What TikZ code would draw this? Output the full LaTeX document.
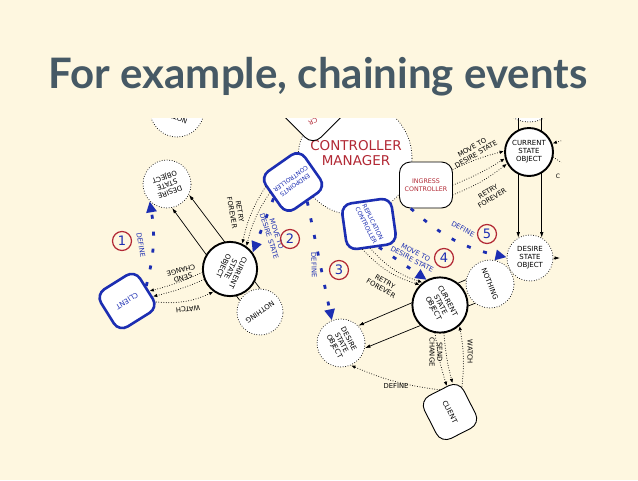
\documentclass[tikz,border=0pt]{standalone}
\usepackage{fontspec}
\setmainfont{DejaVu Sans}
\newfontfamily\titlefont{Lato}
\usetikzlibrary{arrows.meta,calc}
\definecolor{bgc}{RGB}{254,247,224}
\definecolor{titc}{RGB}{70,89,101}
\definecolor{dblue}{RGB}{28,46,178}
\definecolor{dred}{RGB}{178,40,52}
\newcommand{\ml}[1]{\begin{tabular}{@{}c@{}}#1\end{tabular}}
\tikzset{
 dotb/.style={line cap=round, dash pattern=on 0pt off 2.5pt, line width=1pt},
 circw/.style={circle, fill=white, inner sep=0pt, minimum size=#1, font=\fontsize{7}{8}\selectfont},
 dcirc/.style={circw=#1, draw, dotb},
 tcirc/.style={circw=#1, draw, line width=1.9pt},
 smallf/.style={font=\fontsize{6.8}{7.8}\selectfont},
 bbox/.style={draw=dblue, line width=2.6pt, fill=white, rounded corners=10pt, inner sep=0pt, text=dblue, align=center, font=\fontsize{6}{7.5}\selectfont},
 kbox/.style={draw, line width=0.9pt, fill=white, rounded corners=11pt, inner sep=0pt, align=center, font=\fontsize{6.3}{7.8}\selectfont},
 bconn/.style={draw=dblue, line width=2.8pt, dash pattern=on 4pt off 13pt, -{Triangle[length=11pt,width=10pt]}},
 kdot/.style={dotb, -{Latex[length=4.5pt,width=3.6pt]}},
 kline/.style={line width=0.7pt, -{Latex[length=5.5pt,width=3.6pt]}},
 numc/.style={circle, draw=dred, line width=1.2pt, minimum size=19pt, inner sep=0pt, text=dblue, font=\fontsize{13}{13}\selectfont},
 blab/.style={text=dblue, smallf, align=center, inner sep=0pt},
 klab/.style={smallf, align=center, inner sep=0pt},
}
\begin{document}
\begin{tikzpicture}[x=1pt,y=-1pt]
\fill[bgc] (0,0) rectangle (638,480);
\useasboundingbox (0,0) rectangle (638,480);
\node[font=\titlefont\bfseries\fontsize{42}{42}\selectfont, text=titc, anchor=base] (title) at (318,88) {For example, chaining events};

\begin{scope}
\clip (60,118) rectangle (561,470);
% big background shapes
\node[dcirc=114] (mgr) at (355,158) {};
\node[text=dred, font=\fontsize{13.5}{15}\selectfont, align=center] (mgrT) at (356,153) {CONTROLLER\\MANAGER};
\node[kbox, rotate=45, minimum width=54, minimum height=54] (crN) at (313,107) {};
\node[text=dred, font=\fontsize{6.5}{6.5}\selectfont, rotate=205] (crT) at (313,122) {CR};
\node[dcirc=60] (topR) at (529,92) {};
\node[dcirc=54] (noT) at (177,110) {};
\node[smallf, rotate=160] (noTt) at (172,116) {NOTHING};

% desire / nothing nodes
\node[dcirc=48] (dL) at (167,184) {\rotatebox{200}{\ml{DESIRE\\STATE\\OBJECT}}};
\node[dcirc=46] (nL) at (260,312) {\rotatebox{215}{NOTHING}};
\node[dcirc=46] (dR) at (530,258) {\ml{DESIRE\\STATE\\OBJECT}};
\node[dcirc=48] (dM) at (341,343) {\rotatebox{-62}{\ml{DESIRE\\STATE\\OBJECT}}};
\node[dcirc=48] (nR) at (490,284) {\rotatebox{-68}{NOTHING}};

% lines passing behind current state objects
\draw[kline] (nL.150) -- (dL.-78);
\draw[kline] (nL.90) -- (dL.-26);
\draw[kline] (dR.120 |- topR.center) -- (dR.120);
\draw[kline] (dR.60 |- topR.center) -- (dR.60);
\draw[kline] (nR.170) -- (dM.45);
\draw[kline] (nR.232) -- (dM.-12);

% current state objects
\node[tcirc=48] (cL) at (230,269) {\rotatebox{-115}{\ml{CURRENT\\STATE\\OBJECT}}};
\node[tcirc=46] (cM) at (440,305) {\rotatebox{-62}{\ml{CURRENT\\STATE\\OBJECT}}};
\node[tcirc=48] (cR) at (529,152) {\ml{CURRENT\\STATE\\OBJECT}};

% controllers and clients
\node[bbox, rotate=215, minimum width=48, minimum height=46] (eC) at (293,182) {ENDPOINTS\\CONTROLLER};
\node[bbox, rotate=8, minimum width=50, minimum height=46] (rC) at (369,224) {\rotatebox{-71}{\ml{REPLICATION\\CONTROLLER}}};
\node[kbox, text=dred, minimum width=53, minimum height=46] (iC) at (426,185) {INGRESS\\CONTROLLER};
\node[bbox, rotate=212, minimum width=46, minimum height=44, font=\fontsize{7}{8}\selectfont] (clL) at (127,301) {CLIENT};
\node[kbox, rotate=-63, minimum width=48, minimum height=44, font=\fontsize{7}{8}\selectfont] (cB) at (450,412) {CLIENT};

% blue chained events
\draw[bconn] (clL.186) to[bend right=12] (dL.225);
\draw[bconn] (eC.5) -- (cL.36);
\draw[bconn] (eC.91) -- (dM.112);
\draw[bconn] (rC.-75) -- (cM.118);
\draw[bconn] (iC.237) to[bend right=15] (dR.178);

% black dotted connectors
\draw[kdot] (eC.335) to[bend right=10] (cL.64);
\draw[kdot] (eC.350) to[bend right=10] (cL.54);
\draw[kdot] (cL.187) to[bend left=5] (clL.172);
\draw[kdot] (cL.202) to[bend left=5] (clL.158);
\draw[kdot] (clL.146) to[bend right=15] (cL.234);
\draw[kdot] (rC.-112) to[bend right=15] (cM.135);
\draw[kdot] (rC.-95) to[bend right=15] (cM.128);
\draw[kdot] (cM.-100) to[bend right=5] (cB.160);
\draw[kdot] (cM.-82) to[bend right=5] (cB.148);
\draw[kdot] (cB.128) to[bend right=8] (cM.-47);
\draw[kdot] (cB.178) to[bend left=8] (dM.-66);
\draw[kdot] (iC.30) to[bend left=5] (cR.178);
\draw[kdot] (iC.0) to[bend right=5] (cR.195);
\draw[kdot] (iC.-20) to[bend right=8] (cR.208);
\coordinate (rOut1) at (580,135);
\coordinate (rOut2) at (580,175);
\coordinate (dOut) at (560,258);
\draw[kdot] (rOut1) -- (cR.20);
\draw[dotb] (cR.-12) -- (rOut2);
\draw[kline] (dR.0) -- (dOut);
\node[font=\fontsize{6}{6}\selectfont] (cc) at (558,176) {C};

% labels
\node[blab, rotate=-80] (l1) at (141,245) {DEFINE};
\node[numc] (n1) at (122,241) {1};
\node[blab, rotate=-72] (l2) at (273,235) {MOVE TO\\DESIRE STATE};
\node[numc] (n2) at (290,239) {2};
\node[blab, rotate=-88] (l3) at (314,265) {DEFINE};
\node[numc] (n3) at (339,270) {3};
\node[blab, rotate=-28] (l4) at (414,256) {MOVE TO\\DESIRE STATE};
\node[numc] (n4) at (444,258) {4};
\node[blab, rotate=-28] (l5) at (463,229) {DEFINE};
\node[numc] (n5) at (487,234) {5};

\node[klab, rotate=-80] (r1) at (236,212) {RETRY\\FOREVER};
\node[klab, rotate=195] (s1) at (182,274) {SEND\\CHANGE};
\node[klab, rotate=185] (w1) at (188,309) {WATCH};
\node[klab, rotate=-30] (r2) at (383,285) {RETRY\\FOREVER};
\node[klab, rotate=-90] (s2) at (436,352) {SEND\\CHANGE};
\node[klab, rotate=-90] (w2) at (470,352) {WATCH};
\node[klab] (d2) at (396,386) {DEFINE};
\node[klab, rotate=30] (m3) at (474,151) {MOVE TO\\DESIRE STATE};
\node[klab, rotate=32] (r3) at (490,195) {RETRY\\FOREVER};
\end{scope}
\end{tikzpicture}
\end{document}
